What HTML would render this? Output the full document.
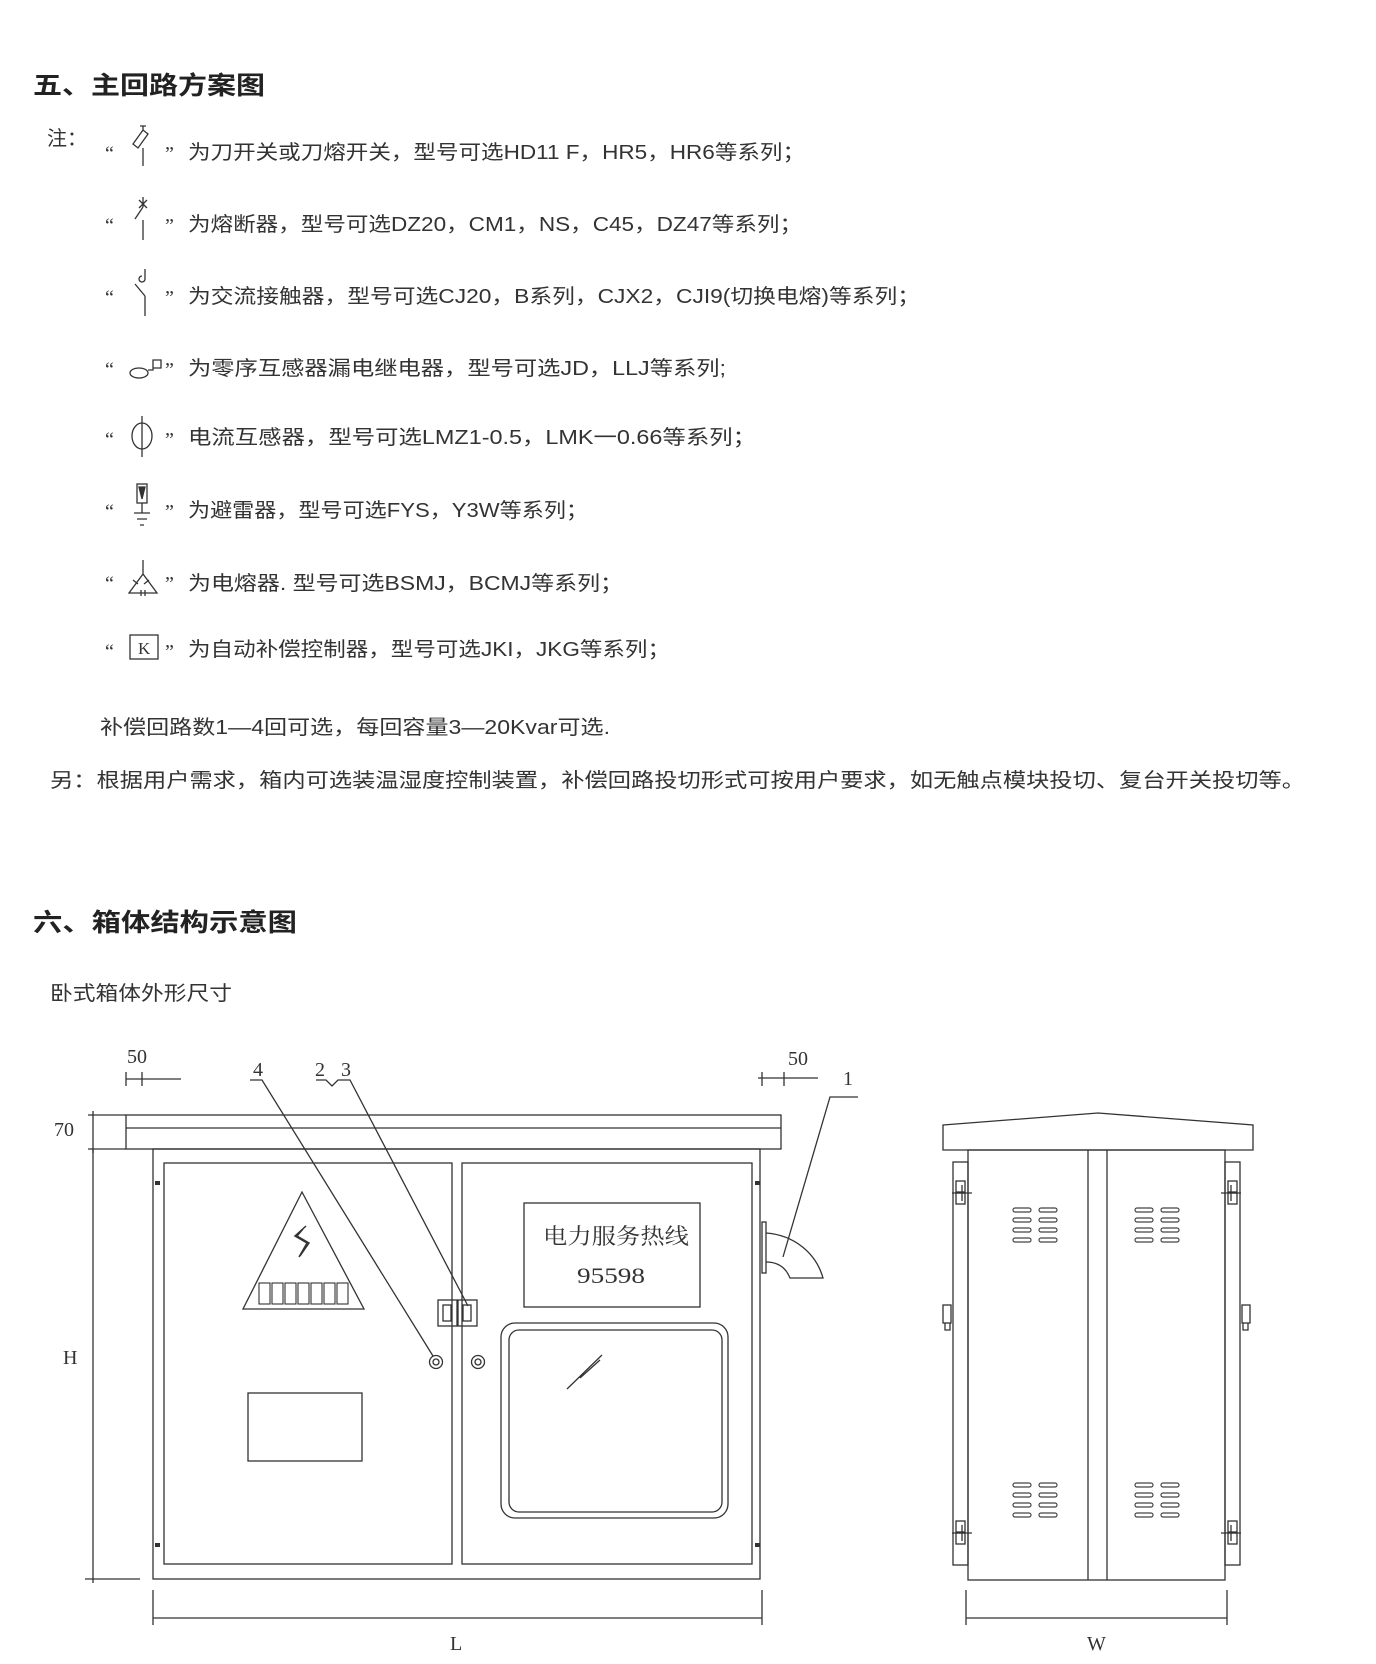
<!DOCTYPE html>
<html><head><meta charset="utf-8"><style>
html,body{margin:0;padding:0;background:#fff;}
svg{display:block;}
.t{font-family:"Liberation Sans","Noto Sans CJK SC",sans-serif;font-size:20px;fill:#333;}
.h{font-family:"Liberation Sans","Noto Sans CJK SC",sans-serif;font-size:25px;font-weight:bold;fill:#222;}
.q{font-family:"Liberation Serif","Noto Serif CJK SC",serif;font-size:20px;fill:#333;}
.s{font-family:"Liberation Serif","Noto Serif CJK SC",serif;fill:#333;}
</style></head><body>
<svg width="1376" height="1664" viewBox="0 0 1376 1664" xmlns="http://www.w3.org/2000/svg">
<g>
<text class="h" x="33" y="94" textLength="232" lengthAdjust="spacingAndGlyphs">五、主回路方案图</text>
<text class="t" x="47" y="145">注：</text>

<g class="t">
<text x="188" y="159" textLength="617" lengthAdjust="spacingAndGlyphs">为刀开关或刀熔开关，型号可选HD11 F，HR5，HR6等系列；</text>
<text x="188" y="231" textLength="614" lengthAdjust="spacingAndGlyphs">为熔断器，型号可选DZ20，CM1，NS，C45，DZ47等系列；</text>
<text x="188" y="303" textLength="732" lengthAdjust="spacingAndGlyphs">为交流接触器，型号可选CJ20，B系列，CJX2，CJI9(切换电熔)等系列；</text>
<text x="188" y="375" textLength="538" lengthAdjust="spacingAndGlyphs">为零序互感器漏电继电器，型号可选JD，LLJ等系列;</text>
<text x="188" y="444" textLength="568" lengthAdjust="spacingAndGlyphs">电流互感器，型号可选LMZ1-0.5，LMK一0.66等系列；</text>
<text x="188" y="517" textLength="400" lengthAdjust="spacingAndGlyphs">为避雷器，型号可选FYS，Y3W等系列；</text>
<text x="188" y="590" textLength="435" lengthAdjust="spacingAndGlyphs">为电熔器. 型号可选BSMJ，BCMJ等系列；</text>
<text x="188" y="656" textLength="482" lengthAdjust="spacingAndGlyphs">为自动补偿控制器，型号可选JKI，JKG等系列；</text>
<text x="100" y="734" textLength="510" lengthAdjust="spacingAndGlyphs">补偿回路数1—4回可选，每回容量3—20Kvar可选.</text>
<text x="50" y="787" textLength="1255" lengthAdjust="spacingAndGlyphs">另：根据用户需求，箱内可选装温湿度控制装置，补偿回路投切形式可按用户要求，如无触点模块投切、复台开关投切等。</text>
</g>
<g class="q">
<text x="105" y="160">“</text><text x="165" y="160">”</text>
<text x="105" y="232">“</text><text x="165" y="232">”</text>
<text x="105" y="304">“</text><text x="165" y="304">”</text>
<text x="105" y="376">“</text><text x="165" y="376">”</text>
<text x="105" y="446">“</text><text x="165" y="446">”</text>
<text x="105" y="518">“</text><text x="165" y="518">”</text>
<text x="105" y="590">“</text><text x="165" y="590">”</text>
<text x="105" y="658">“</text><text x="165" y="658">”</text>
</g>
<!-- symbols -->
<g stroke="#333" stroke-width="1.3" fill="none">
<path d="M143 126v4M140 126h6M143 130l-10 14l5 4l10 -14zM143 148v18"/>
<path d="M143 197v10M139 200l8 8M147 200l-8 8M143 207l-8 12M143 220v20"/>
<path d="M145 269v10M145 279a3 3 0 1 1 -3 -3M135 284l10 12M145 296v20"/>
<ellipse cx="139" cy="373" rx="9" ry="5"/><path d="M148 370h5v-10h8v8h-8"/>
<ellipse cx="142" cy="436" rx="10" ry="13"/><path d="M142 416v41"/>
<rect x="137" y="484" width="10" height="19"/><path d="M142 487l-3 0l3 12l3 -12z" fill="#333"/><path d="M142 503v10M134 513h16M137 519h10M140 525h4"/>
<path d="M143 560v14M143 574l-14 19h28zM141 590v6M145 590v6M133 580l5 4M149 580l-5 4"/>
<rect x="130" y="635" width="28" height="24"/>
</g>
<text class="s" x="138" y="654" font-size="17">K</text>

<text class="h" x="33" y="931" textLength="264" lengthAdjust="spacingAndGlyphs">六、箱体结构示意图</text>
<text class="t" x="50" y="1000" textLength="182" lengthAdjust="spacingAndGlyphs">卧式箱体外形尺寸</text>
</g>

<!-- FRONT VIEW -->
<g stroke="#333" stroke-width="1.3" fill="none">
<rect x="126" y="1115" width="655" height="34"/>
<line x1="126" y1="1128" x2="781" y2="1128"/>
<rect x="153" y="1149" width="607" height="430"/>
<rect x="164" y="1163" width="288" height="401"/>
<rect x="462" y="1163" width="290" height="401"/>
<path d="M155 1183h5M155 1545h5M755 1183h5M755 1545h5" stroke-width="4"/>
<path d="M302 1192L364 1309H243Z"/>
<path d="M306 1226l-11 10l12 7l-8 14M303 1229l-6 7l12 7l-9 13" stroke-width="1.5"/>
<g stroke-width="1.1">
<rect x="259" y="1283" width="11" height="21"/><rect x="272" y="1283" width="11" height="21"/><rect x="285" y="1283" width="11" height="21"/><rect x="298" y="1283" width="11" height="21"/><rect x="311" y="1283" width="11" height="21"/><rect x="324" y="1283" width="11" height="21"/><rect x="337" y="1283" width="11" height="21"/>
</g>
<rect x="248" y="1393" width="114" height="68"/>
<rect x="438" y="1300" width="19" height="26"/><rect x="458" y="1300" width="19" height="26"/>
<rect x="443" y="1305" width="8" height="16"/><rect x="463" y="1305" width="8" height="16"/>
<circle cx="436" cy="1362" r="6.5"/><circle cx="436" cy="1362" r="3"/>
<circle cx="478" cy="1362" r="6.5"/><circle cx="478" cy="1362" r="3"/>
<rect x="524" y="1203" width="176" height="104"/>
<rect x="501" y="1323" width="227" height="195" rx="14"/>
<rect x="509" y="1330" width="213" height="182" rx="10"/>
<path d="M567 1389l35 -34M580 1378l20 -18"/>
<rect x="762" y="1222" width="4" height="51"/>
<path d="M766 1233c28 2 50 20 57 45h-33c-4 -10 -12 -16 -24 -16"/>
<path d="M250 1080h12L433 1356"/>
<path d="M316 1080h10l6 6l6 -6h12L468 1306"/>
<path d="M858 1097h-28L783 1257"/>
<path d="M126 1079h55M126 1072v14M142 1072v14"/>
<path d="M758 1078h60M762 1072v14M784 1072v14"/>
<path d="M88 1115h38M88 1149h38M93 1111v42"/>
<path d="M93 1149v434M85 1579h55"/>
<path d="M153 1590v35M762 1590v35M153 1618h609"/>
<path d="M966 1590v35M1227 1590v35M966 1618h261"/>
</g>
<g class="s" font-size="20">
<text x="127" y="1063">50</text>
<text x="788" y="1065">50</text>
<text x="253" y="1076">4</text>
<text x="315" y="1076">2</text>
<text x="341" y="1076">3</text>
<text x="843" y="1085">1</text>
<text x="54" y="1136">70</text>
<text x="63" y="1364">H</text>
<text x="450" y="1650">L</text>
<text x="1087" y="1650">W</text>
<text x="543" y="1244" font-size="22" textLength="146" lengthAdjust="spacingAndGlyphs">电力服务热线</text>
<text x="577" y="1283" font-size="22" textLength="68" lengthAdjust="spacingAndGlyphs">95598</text>
</g>

<!-- SIDE VIEW -->
<g stroke="#333" stroke-width="1.3" fill="none">
<path d="M943 1125L1098 1113L1253 1125V1150H943Z"/>
<rect x="968" y="1150" width="257" height="430"/>
<path d="M1088 1150v430M1107 1150v430"/>
<rect x="953" y="1162" width="15" height="403"/>
<rect x="1225" y="1162" width="15" height="403"/>
<rect x="956" y="1181" width="9" height="11"/><rect x="956" y="1193" width="9" height="11"/>
<path d="M952 1193h20M962 1185v16"/>
<rect x="1228" y="1181" width="9" height="11"/><rect x="1228" y="1193" width="9" height="11"/>
<path d="M1221 1193h20M1231 1185v16"/>
<rect x="956" y="1521" width="9" height="11"/><rect x="956" y="1533" width="9" height="11"/>
<path d="M952 1533h20M962 1525v16"/>
<rect x="1228" y="1521" width="9" height="11"/><rect x="1228" y="1533" width="9" height="11"/>
<path d="M1221 1533h20M1231 1525v16"/>
<rect x="943" y="1305" width="8" height="18"/><path d="M945 1323v7h5v-7"/>
<rect x="1242" y="1305" width="8" height="18"/><path d="M1243 1323v7h5v-7"/>
</g>
<g fill="none" stroke="#444" stroke-width="1.2">
<g id="v1">
<rect x="1013" y="1208" width="18" height="4" rx="2"/><rect x="1039" y="1208" width="18" height="4" rx="2"/>
<rect x="1013" y="1218" width="18" height="4" rx="2"/><rect x="1039" y="1218" width="18" height="4" rx="2"/>
<rect x="1013" y="1228" width="18" height="4" rx="2"/><rect x="1039" y="1228" width="18" height="4" rx="2"/>
<rect x="1013" y="1238" width="18" height="4" rx="2"/><rect x="1039" y="1238" width="18" height="4" rx="2"/>
</g>
<use href="#v1" x="122" y="0"/>
<use href="#v1" x="0" y="275"/>
<use href="#v1" x="122" y="275"/>
</g>
</svg>
</body></html>
